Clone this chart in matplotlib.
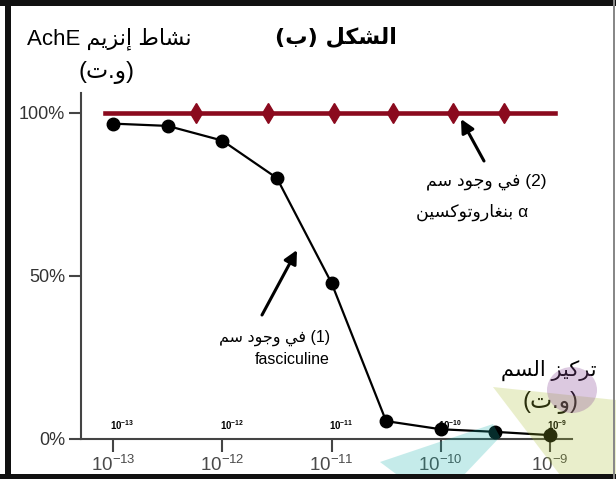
import matplotlib
matplotlib.use("Agg")
import matplotlib.pyplot as plt
from matplotlib.patches import Rectangle, Polygon
import numpy as np

plt.rcParams['font.family'] = ['Liberation Sans', 'DejaVu Sans']
plt.rcParams['mathtext.fontset'] = 'custom'
plt.rcParams['mathtext.rm'] = 'Liberation Sans'
plt.rcParams['mathtext.it'] = 'Liberation Sans:italic'
plt.rcParams['mathtext.bf'] = 'Liberation Sans:bold'

# ---------------- data ----------------
fasc_conc = [1e-13, 3.16e-13, 1e-12, 3.16e-12, 1e-11, 3.16e-11, 1e-10, 3.16e-10, 1e-9]
fasc_activity = [96.7, 96.0, 91.5, 80.0, 47.8, 5.4, 2.9, 2.1, 1.1]

bung_conc = [8.5e-14, 5.75e-13, 2.63e-12, 1.05e-11, 3.63e-11, 1.29e-10, 3.8e-10, 1.12e-9]
bung_activity = [100, 100, 100, 100, 100, 100, 100, 100]

x_ticks = [1e-13, 1e-12, 1e-11, 1e-10, 1e-9]
x_ticklabels = ['$10^{-13}$', '$10^{-12}$', '$10^{-11}$', '$10^{-10}$', '$10^{-9}$']
x_inner_labels = [r'$\mathbf{10^{-13}}$', r'$\mathbf{10^{-12}}$', r'$\mathbf{10^{-11}}$',
                  r'$\mathbf{10^{-10}}$', r'$\mathbf{10^{-9}}$']
y_ticks = [0, 50, 100]
y_ticklabels = ['0%', '50%', '100%']

# ---------------- Arabic shaping helper ----------------
FORMS = {
    '\u0627': ('\uFE8D', '\uFE8E', None, None),
    '\u0625': ('\uFE87', '\uFE88', None, None),
    '\u0628': ('\uFE8F', '\uFE90', '\uFE91', '\uFE92'),
    '\u062A': ('\uFE95', '\uFE96', '\uFE97', '\uFE98'),
    '\u062C': ('\uFE9D', '\uFE9E', '\uFE9F', '\uFEA0'),
    '\u062F': ('\uFEA9', '\uFEAA', None, None),
    '\u0631': ('\uFEAD', '\uFEAE', None, None),
    '\u0632': ('\uFEAF', '\uFEB0', None, None),
    '\u0633': ('\uFEB1', '\uFEB2', '\uFEB3', '\uFEB4'),
    '\u0634': ('\uFEB5', '\uFEB6', '\uFEB7', '\uFEB8'),
    '\u0637': ('\uFEC1', '\uFEC2', '\uFEC3', '\uFEC4'),
    '\u063A': ('\uFECD', '\uFECE', '\uFECF', '\uFED0'),
    '\u0641': ('\uFED1', '\uFED2', '\uFED3', '\uFED4'),
    '\u0643': ('\uFED9', '\uFEDA', '\uFEDB', '\uFEDC'),
    '\u0644': ('\uFEDD', '\uFEDE', '\uFEDF', '\uFEE0'),
    '\u0645': ('\uFEE1', '\uFEE2', '\uFEE3', '\uFEE4'),
    '\u0646': ('\uFEE5', '\uFEE6', '\uFEE7', '\uFEE8'),
    '\u0648': ('\uFEED', '\uFEEE', None, None),
    '\u064A': ('\uFEF1', '\uFEF2', '\uFEF3', '\uFEF4'),
}


def ar(s):
    out = []
    for i, c in enumerate(s):
        if c not in FORMS:
            out.append(c)
            continue
        prev = s[i - 1] if i > 0 else ''
        nxt = s[i + 1] if i + 1 < len(s) else ''
        jp = prev in FORMS and FORMS[prev][2] is not None
        jn = FORMS[c][2] is not None and nxt in FORMS
        f = FORMS[c]
        if jp and jn:
            out.append(f[3])
        elif jp:
            out.append(f[1])
        elif jn:
            out.append(f[2])
        else:
            out.append(f[0])
    vis = ''.join(reversed(out))
    return vis.translate(str.maketrans('()', ')('))


W, H = 616, 479
fig = plt.figure(figsize=(W / 100, H / 100), dpi=100)
fig.patch.set_facecolor('white')


def P(x, y):
    return (x / W, 1 - y / H)


ax = fig.add_axes([81 / W, (H - 438.7) / H, (571.7 - 81) / W, (438.7 - 93) / H])
ax.set_xscale('log')
ax.set_xlim(5.09e-14, 1.58e-9)
ax.set_ylim(0, 106.1)

axis_col = '#444444'
for s in ['top', 'right']:
    ax.spines[s].set_visible(False)
ax.spines['left'].set_color(axis_col)
ax.spines['bottom'].set_color(axis_col)
ax.spines['left'].set_linewidth(1.5)
ax.spines['bottom'].set_linewidth(1.5)

ax.set_xticks(x_ticks)
ax.set_xticklabels(x_ticklabels)
ax.xaxis.set_minor_locator(matplotlib.ticker.NullLocator())
ax.set_yticks(y_ticks)
ax.set_yticklabels(y_ticklabels)
ax.tick_params(axis='x', direction='out', length=9.5, width=1.5, color=axis_col,
               labelsize=13.5, labelcolor='#4a4a4a', pad=2)
ax.tick_params(axis='y', direction='out', length=8.5, width=1.5, color=axis_col,
               labelsize=13, labelcolor='#333333', pad=3)

# series
ax.plot(fasc_conc, fasc_activity, color='black', lw=1.6, marker='o', ms=9,
        markerfacecolor='black', markeredgecolor='black', zorder=4, clip_on=False)
ax.plot(bung_conc, bung_activity, color='#8b0a1e', lw=3.3, marker='d', ms=10.5,
        markevery=[1, 2, 3, 4, 5, 6], markerfacecolor='#8b0a1e',
        markeredgecolor='#8b0a1e', zorder=3, clip_on=False)

# small bold labels above x axis
for xv, lab in zip(x_ticks, x_inner_labels):
    ax.annotate(lab, xy=(xv, 0), xytext=(-2, 4.5), textcoords='offset points',
                ha='left', va='bottom', fontsize=7, color='black', zorder=2)

# texts
fam = ['Liberation Sans', 'DejaVu Sans']
fig.text(*P(336, 37), ar('الشكل (ب)'), ha='center', va='center', fontsize=16,
         fontweight='bold', family=['DejaVu Sans'])
fig.text(*P(109, 39), 'AchE ' + ar('نشاط إنزيم'), ha='center', va='center',
         fontsize=16, family=fam)
fig.text(*P(106, 73), ar('(و.ت)'), ha='center', va='center', fontsize=17, family=fam)
fig.text(*P(549, 370), ar('تركيز السم'), ha='center', va='center', fontsize=15,
         family=fam)
fig.text(*P(550, 402), ar('(و.ت)'), ha='center', va='center', fontsize=17, family=fam)

fig.text(*P(547, 182), ar('(2) في وجود سم'), ha='right', va='center', fontsize=12.5,
         family=fam)
fig.text(*P(528, 212), ar('α بنغاروتوكسين'), ha='right', va='center', fontsize=12.5,
         family=fam)
fig.text(*P(330, 338), ar('(1) في وجود سم'), ha='right', va='center', fontsize=11.5,
         family=fam)
fig.text(*P(330, 360), 'fasciculine', ha='right', va='center', fontsize=11.5,
         family=fam)

arrow = dict(arrowstyle='-|>', lw=2.2, color='black', mutation_scale=20,
             shrinkA=0, shrinkB=0)
fig.add_artist(matplotlib.patches.FancyArrowPatch(P(262, 315), P(297, 250),
               transform=fig.transFigure, **arrow))
fig.add_artist(matplotlib.patches.FancyArrowPatch(P(484, 161), P(461, 119),
               transform=fig.transFigure, **arrow))


# decorative shapes (semi transparent)
def poly(pts, color, alpha):
    fig.add_artist(Polygon([P(x, y) for x, y in pts], closed=True,
                           transform=fig.transFigure, facecolor=color,
                           edgecolor='none', alpha=alpha, zorder=10))


poly([(493, 387), (616, 400), (616, 479), (563, 479)], (0.67, 0.75, 0.2), 0.25)
poly([(380, 462), (493, 424), (500, 437), (462, 477), (400, 477)], (0.1, 0.7, 0.68), 0.25)
fig.add_artist(matplotlib.patches.Ellipse(P(572, 390), 50 / W, 46 / H,
               transform=fig.transFigure, facecolor=(0.55, 0.3, 0.6),
               edgecolor='none', alpha=0.3, zorder=10))


# frame
def rect(x0, y0, x1, y1, color):
    fig.add_artist(Rectangle(P(x0, y1), (x1 - x0) / W, (y1 - y0) / H,
                             transform=fig.transFigure, facecolor=color,
                             edgecolor='none', zorder=20))


rect(0, 0, 616, 6, '#111111')
rect(5, 0, 11, 479, '#111111')
rect(0, 474, 616, 479, '#111111')
rect(613, 0, 615, 479, '#888888')

fig.savefig('out.png', dpi=100)
